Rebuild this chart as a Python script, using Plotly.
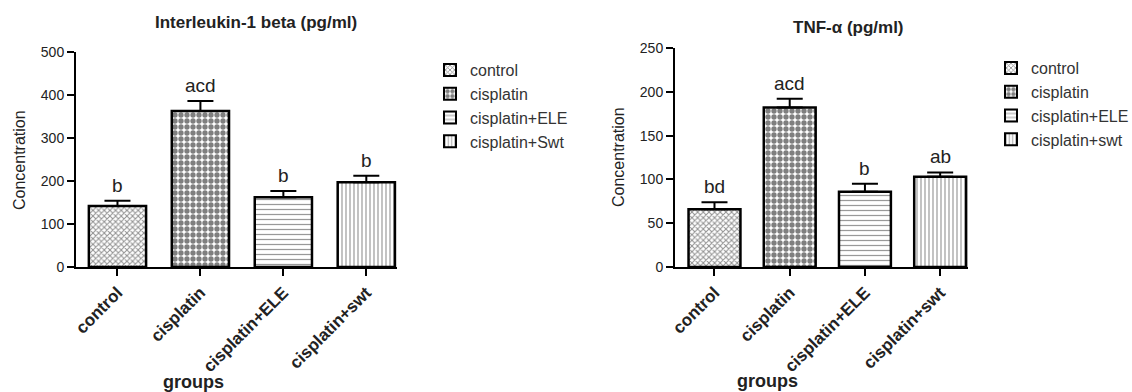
import plotly.graph_objects as go

categories = ["control", "cisplatin", "cisplatin+ELE", "cisplatin+swt"]
il1_names = ["control", "cisplatin", "cisplatin+ELE", "cisplatin+Swt"]
tnf_names = ["control", "cisplatin", "cisplatin+ELE", "cisplatin+swt"]
il1_values = [142, 363, 162, 197]
il1_errors = [12, 23, 15, 15]
il1_letters = ["b", "acd", "b", "b"]
tnf_values = [66, 182, 86, 103]
tnf_errors = [8, 10, 9, 5]
tnf_letters = ["bd", "acd", "b", "ab"]

patterns = [
    dict(shape="x", size=4, solidity=0.45, fgcolor="#222", bgcolor="white"),
    dict(shape=".", size=6, solidity=0.62, fgcolor="black", bgcolor="white"),
    dict(shape="-", size=5, solidity=0.25, fgcolor="#333", bgcolor="white"),
    dict(shape="|", size=4, solidity=0.3, fgcolor="#333", bgcolor="white"),
]

FONT = "Liberation Sans, Arial, sans-serif"
fig = go.Figure()

def add_panel(values, errors, names, xa, ya, legend):
    for i, cat in enumerate(categories):
        fig.add_trace(go.Bar(
            x=[cat], y=[values[i]], name=names[i],
            xaxis=xa, yaxis=ya, legend=legend,
            width=0.69,
            marker=dict(color="white", line=dict(color="black", width=2.5),
                        pattern=patterns[i]),
            error_y=dict(type="data", array=[errors[i]], arrayminus=[0],
                         symmetric=False, color="black", thickness=2, width=13),
        ))

add_panel(il1_values, il1_errors, il1_names, "x", "y", "legend")
add_panel(tnf_values, tnf_errors, tnf_names, "x2", "y2", "legend2")

annotations = []
for i, cat in enumerate(categories):
    annotations.append(dict(x=cat, y=il1_values[i] + il1_errors[i], xref="x", yref="y",
                            text=il1_letters[i], showarrow=False, yanchor="bottom", yshift=3,
                            font=dict(size=19, color="#222", family=FONT)))
    annotations.append(dict(x=cat, y=tnf_values[i] + tnf_errors[i], xref="x2", yref="y2",
                            text=tnf_letters[i], showarrow=False, yanchor="bottom", yshift=3,
                            font=dict(size=19, color="#222", family=FONT)))

W, H = 1132, 392
def px(x): return x / W
def py(y): return 1 - y / H

def lab(text, x, y, size, angle=0):
    return dict(text=text, x=px(x), y=py(y), xref="paper", yref="paper", textangle=angle,
                xanchor="center", yanchor="middle", showarrow=False,
                font=dict(size=size, color="#222", family=FONT))

annotations += [
    lab("<b>Interleukin-1 beta (pg/ml)</b>", 256, 22, 17),
    lab("<b>TNF-α (pg/ml)</b>", 848, 28, 17),
    lab("Concentration", 19, 160, 16, -90),
    lab("Concentration", 618, 157, 16, -90),
    lab("<b>groups</b>", 193, 382, 18),
    lab("<b>groups</b>", 767, 381, 18),
]

base = dict(showline=True, linecolor="black", linewidth=2, ticks="outside",
            tickcolor="black", tickwidth=2, ticklen=7, showgrid=False, zeroline=False,
            tickprefix="<b>", ticksuffix="</b>", automargin=False)
xfont = dict(size=17, color="#222", family=FONT)
yfont = dict(size=14, color="#222", family=FONT)

fig.update_layout(
    width=W, height=H, margin=dict(l=0, r=0, t=0, b=0, autoexpand=False),
    paper_bgcolor="white", plot_bgcolor="white",
    showlegend=True,
    font=dict(family=FONT, color="#222"),
    xaxis=dict(domain=[px(76), px(397)], range=[-0.5, 3.37], anchor="y",
               tickangle=-45, tickfont=xfont, **base),
    yaxis=dict(domain=[py(267), py(52)], range=[0, 500], anchor="x",
               tickvals=[0, 100, 200, 300, 400, 500], tickfont=yfont, **base),
    xaxis2=dict(domain=[px(675), px(968)], range=[-0.525, 3.37], anchor="y2",
                tickangle=-45, tickfont=xfont, **base),
    yaxis2=dict(domain=[py(267), py(48)], range=[0, 250], anchor="x2",
                tickvals=[0, 50, 100, 150, 200, 250], tickfont=yfont, **base),
    legend=dict(x=px(430), y=py(53), xanchor="left", yanchor="top",
                font=dict(size=16, color="#333", family=FONT), tracegroupgap=0,
                itemsizing="constant", bgcolor="rgba(0,0,0,0)"),
    legend2=dict(x=px(991), y=py(51), xanchor="left", yanchor="top",
                 font=dict(size=16, color="#333", family=FONT), tracegroupgap=0,
                 itemsizing="constant", bgcolor="rgba(0,0,0,0)"),
    annotations=annotations,
)

fig.write_html("out.html")
